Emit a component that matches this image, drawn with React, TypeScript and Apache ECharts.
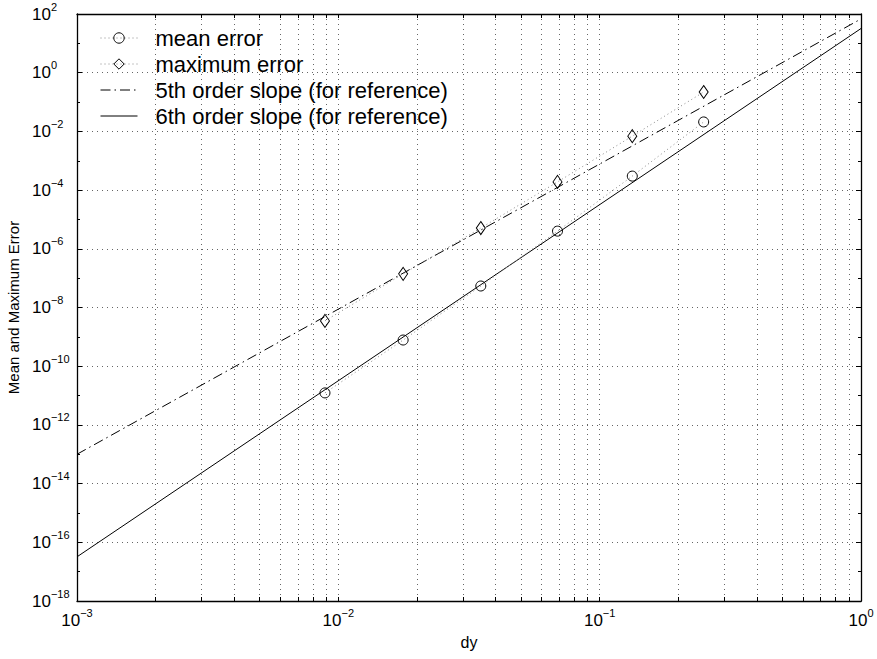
import React, { useEffect, useRef } from "react";
import * as echarts from "echarts";

// grid spacing dy = 2/(N-1)
const dy = [0.008889, 0.0177, 0.03509, 0.06897, 0.1333, 0.25];
const meanError = [1.23e-11, 7.8e-10, 5.4e-8, 4.0e-6, 3.0e-4, 0.021];
const maxError = [3.5e-9, 1.4e-7, 5.1e-6, 1.9e-4, 6.9e-3, 0.22];
const refX = [0.001, 1];
const slope5 = [1.0e-13, 68];
const slope6 = [3.2e-17, 32];
const xDecades = [-3, -2, -1, 0];
const minorMultipliers = [2, 3, 4, 5, 6, 7, 8, 9];
const seriesNames = [
  "mean error",
  "maximum error",
  "5th order slope (for reference)",
  "6th order slope (for reference)",
];

const FONT = "'Liberation Sans', Arial, Helvetica, sans-serif";

const xTickValues: number[] = [];
xDecades.forEach((d) => {
  xTickValues.push(d);
  if (d < 0) minorMultipliers.forEach((k) => xTickValues.push(d + Math.log10(k)));
});

const toLog = (xs: number[], ys: number[]) => xs.map((x, i) => [Math.log10(x), Math.log10(ys[i])]);

const powLabel = (v: number) => {
  const e = Math.round(v);
  const s = e < 0 ? "\u2212" + String(-e) : String(e);
  return `{b|10}{s|${s}}`;
};

const rich = {
  b: { fontSize: 17, lineHeight: 26, color: "#000", fontFamily: FONT },
  s: { fontSize: 11, lineHeight: 11, verticalAlign: "top", color: "#000", fontFamily: FONT },
};

const gridLine = { show: true, lineStyle: { color: "#666", width: 1, type: [1, 4] } };
const frame = { show: true, onZero: false, lineStyle: { color: "#000", width: 1.3 } };

export default function App() {
  const ref = useRef<HTMLDivElement>(null);
  useEffect(() => {
    if (!ref.current) return;
    const chart = echarts.init(ref.current, null, { renderer: "svg" });
    const option: any = {
      animation: false,
      backgroundColor: "#fff",
      textStyle: { fontFamily: FONT },
      grid: { left: 77, right: 16, top: 14, bottom: 58, containLabel: false, outerBoundsMode: "none" },
      legend: {
        data: [
          { name: seriesNames[0], itemStyle: { borderWidth: 1 } },
          { name: seriesNames[1], itemStyle: { borderWidth: 1 } },
          { name: seriesNames[2], itemStyle: { opacity: 0 } },
          { name: seriesNames[3], itemStyle: { opacity: 0 } },
        ],
        orient: "vertical",
        left: 100,
        top: 27,
        padding: 0,
        itemWidth: 37,
        itemHeight: 13,
        itemGap: 4,
        lineStyle: { width: 1 },
        textStyle: { fontSize: 22, color: "#000", fontFamily: FONT, padding: [0, 0, 0, 13] },
        backgroundColor: "transparent",
        borderWidth: 0,
      },
      xAxis: [
        {
          type: "value",
          min: -3,
          max: 0,
          position: "bottom",
          axisLine: frame,
          axisTick: { show: true, inside: true, length: 4, customValues: xTickValues, lineStyle: { color: "#000" } },
          axisLabel: { customValues: xDecades, formatter: powLabel, rich, margin: 6 },
          splitLine: gridLine,
          name: "dy",
          nameLocation: "middle",
          nameGap: 33,
          nameTextStyle: { fontSize: 16, color: "#000", fontFamily: FONT },
        },
        {
          type: "value",
          min: -3,
          max: 0,
          position: "top",
          axisLine: frame,
          axisTick: { show: true, inside: true, length: 4, customValues: xTickValues, lineStyle: { color: "#000" } },
          axisLabel: { show: false },
          splitLine: { show: false },
        },
      ],
      yAxis: [
        {
          type: "value",
          min: -18,
          max: 2,
          interval: 2,
          position: "left",
          axisLine: frame,
          axisTick: { show: true, inside: true, length: 5, lineStyle: { color: "#000" } },
          minorTick: { show: true, splitNumber: 2, length: 3, lineStyle: { color: "#000" } },
          axisLabel: { formatter: powLabel, rich, align: "left", margin: 45 },
          splitLine: gridLine,
          name: "Mean and Maximum Error",
          nameLocation: "middle",
          nameGap: 50,
          nameTextStyle: { fontSize: 15, color: "#000", fontFamily: FONT },
        },
        {
          type: "value",
          min: -18,
          max: 2,
          interval: 2,
          position: "right",
          axisLine: frame,
          axisTick: { show: true, inside: true, length: 5, lineStyle: { color: "#000" } },
          minorTick: { show: true, splitNumber: 2, length: 3, lineStyle: { color: "#000" } },
          axisLabel: { show: false },
          splitLine: { show: false },
        },
      ],
      series: [
        {
          name: seriesNames[2],
          type: "line",
          data: toLog(refX, slope5),
          showSymbol: false,
          symbol: "none",
          lineStyle: { color: "#000", width: 1, type: [10, 4, 1.5, 4] },
          itemStyle: { color: "#000" },
        },
        {
          name: seriesNames[3],
          type: "line",
          data: toLog(refX, slope6),
          showSymbol: false,
          symbol: "none",
          lineStyle: { color: "#000", width: 1, type: "solid" },
          itemStyle: { color: "#000" },
        },
        {
          name: seriesNames[0],
          type: "line",
          data: toLog(dy, meanError),
          symbol: "circle",
          symbolSize: 10,
          showSymbol: true,
          lineStyle: { color: "#888", width: 1, type: [1, 3] },
          itemStyle: { color: "rgba(0,0,0,0)", borderColor: "#000", borderWidth: 1 },
        },
        {
          name: seriesNames[1],
          type: "line",
          data: toLog(dy, maxError),
          symbol: "diamond",
          symbolSize: [9, 13],
          showSymbol: true,
          lineStyle: { color: "#888", width: 1, type: [1, 3] },
          itemStyle: { color: "rgba(0,0,0,0)", borderColor: "#000", borderWidth: 1 },
        },
      ],
    };
    chart.setOption(option);
    return () => chart.dispose();
  }, []);
  return (
    <div
      ref={ref}
      style={{ position: "fixed", left: 0, top: 0, width: 877, height: 659, background: "#fff" }}
    />
  );
}
